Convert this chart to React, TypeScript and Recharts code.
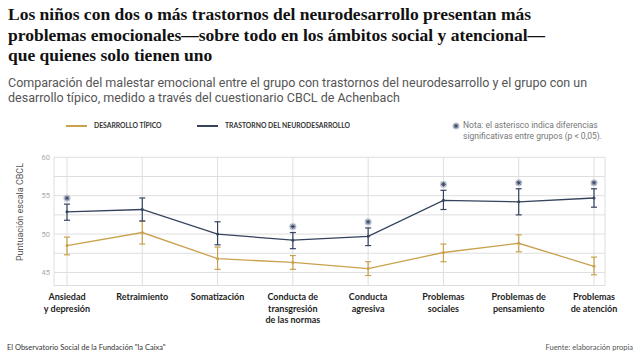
import React from "react";
import { LineChart, Line, XAxis, YAxis, CartesianGrid, ErrorBar } from "recharts";

const categories = [
  "Ansiedad\ny depresión",
  "Retraimiento",
  "Somatización",
  "Conducta de\ntransgresión\nde las normas",
  "Conducta\nagresiva",
  "Problemas\nsociales",
  "Problemas de\npensamiento",
  "Problemas\nde atención",
];

// Trastorno del neurodesarrollo
const trastorno = [52.9, 53.2, 50.0, 49.2, 49.7, 54.4, 54.2, 54.7];
const trastornoLow = [51.8, 51.7, 48.6, 48.1, 48.5, 53.2, 52.5, 53.5];
const trastornoHigh = [53.9, 54.7, 51.6, 50.2, 50.8, 55.7, 55.9, 55.9];

// Desarrollo típico
const tipico = [48.5, 50.2, 46.8, 46.3, 45.5, 47.6, 48.8, 45.8];
const tipicoLow = [47.3, 48.7, 45.4, 45.4, 44.6, 46.4, 47.7, 44.7];
const tipicoHigh = [49.6, 51.7, 48.3, 47.2, 46.4, 48.7, 49.9, 47.0];

// asterisco: diferencias significativas (p < 0,05)
const significativo = [true, false, false, true, true, true, true, true];

const yTicks = [45, 47.5, 50, 52.5, 55, 57.5, 60];

const BLUE = "#35435f";
const GOLD = "#c9a24e";
const GRID = "#dedede";

const data = categories.map((name, i) => ({
  name,
  trastorno: trastorno[i],
  trastornoErr: [trastorno[i] - trastornoLow[i], trastornoHigh[i] - trastorno[i]],
  trastornoHigh: trastornoHigh[i],
  tipico: tipico[i],
  tipicoErr: [tipico[i] - tipicoLow[i], tipicoHigh[i] - tipico[i]],
  sig: significativo[i],
}));

const Asterisk = ({ cx, cy, x, y }: { cx: number; cy: number; x?: number; y?: number }) => {
  const r = 2.4;
  const spokes = [0, 45, 90, 135].map((a) => {
    const rad = (a * Math.PI) / 180;
    return (
      <line
        key={a}
        x1={cx - r * Math.cos(rad)}
        y1={cy - r * Math.sin(rad)}
        x2={cx + r * Math.cos(rad)}
        y2={cy + r * Math.sin(rad)}
        stroke={BLUE}
        strokeWidth={0.9}
      />
    );
  });
  return (
    <g>
      <circle cx={cx} cy={cy} r={3.6} fill="#c3c9d6" />
      {spokes}
    </g>
  );
};

const SigDot = (props: any) => {
  const { cx, cy, payload, index } = props;
  if (!payload || !payload.sig) return <g key={index} />;
  return <Asterisk key={index} cx={cx} cy={cy - 6} />;
};

const XTick = (props: any) => {
  const { x, y, payload } = props;
  const lines = String(payload.value).split("\n");
  return (
    <text
      x={x}
      y={y + 14.5}
      textAnchor="middle"
      fill="#1e1e1e"
      fontFamily="Lato, sans-serif"
      fontWeight={700}
      fontSize={9}
    >
      {lines.map((l, i) => (
        <tspan key={i} x={x} dy={i === 0 ? 0 : 11.5}>
          {l}
        </tspan>
      ))}
    </text>
  );
};

export default function App() {
  return (
    <div
      style={{
        position: "absolute",
        top: 0,
        left: 0,
        width: 640,
        height: 360,
        background: "#fff",
        overflow: "hidden",
        fontFamily: "Roboto, sans-serif",
      }}
    >
      <div
        style={{
          position: "absolute",
          left: 8,
          top: 4,
          width: 620,
          fontFamily: "'Liberation Serif', serif",
          fontWeight: 700,
          fontSize: 17.5,
          lineHeight: "20.5px",
          color: "#111",
        }}
      >
        Los niños con dos o más trastornos del neurodesarrollo presentan más
        <br />
        problemas emocionales—sobre todo en los ámbitos social y atencional—
        <br />
        que quienes solo tienen uno
      </div>
      <div
        style={{
          position: "absolute",
          left: 8,
          top: 76,
          width: 620,
          fontSize: 12.5,
          lineHeight: "14.5px",
          color: "#555",
        }}
      >
        Comparación del malestar emocional entre el grupo con trastornos del neurodesarrollo y el grupo con un
        <br />
        desarrollo típico, medido a través del cuestionario CBCL de Achenbach
      </div>

      {/* leyenda */}
      <div style={{ position: "absolute", left: 66, top: 125, width: 21, height: 1.5, background: GOLD }} />
      <div
        style={{
          position: "absolute",
          left: 94,
          top: 121,
          fontFamily: "Lato, sans-serif",
          fontWeight: 700,
          fontSize: 6.8,
          color: "#333",
          whiteSpace: "nowrap",
        }}
      >
        DESARROLLO TÍPICO
      </div>
      <div style={{ position: "absolute", left: 197, top: 125, width: 21, height: 1.5, background: BLUE }} />
      <div
        style={{
          position: "absolute",
          left: 225,
          top: 121,
          fontFamily: "Lato, sans-serif",
          fontWeight: 700,
          fontSize: 6.8,
          color: "#333",
          whiteSpace: "nowrap",
        }}
      >
        TRASTORNO DEL NEURODESARROLLO
      </div>
      <svg style={{ position: "absolute", left: 451, top: 121 }} width={10} height={10}>
        <Asterisk cx={5} cy={5} />
      </svg>
      <div
        style={{
          position: "absolute",
          left: 463,
          top: 120,
          fontSize: 8.5,
          lineHeight: "11px",
          color: "#777",
          whiteSpace: "nowrap",
        }}
      >
        Nota: el asterisco indica diferencias
        <br />
        significativas entre grupos (p &lt; 0,05).
      </div>

      {/* eje Y */}
      <div
        style={{
          position: "absolute",
          left: 19.5,
          top: 212,
          transform: "translate(-50%, -50%) rotate(-90deg)",
          fontSize: 9,
          color: "#555",
          whiteSpace: "nowrap",
        }}
      >
        Puntuación escala CBCL
      </div>

      <div style={{ position: "absolute", left: 0, top: 0 }}>
        <LineChart
          width={640}
          height={360}
          data={data}
          margin={{ top: 157.3, right: 35, bottom: 44.5, left: 40 }}
        >
          <CartesianGrid stroke={GRID} strokeWidth={1} />
          <XAxis
            dataKey="name"
            interval={0}
            height={30}
            padding={{ left: 13, right: 11 }}
            axisLine={{ stroke: GRID }}
            tickLine={false}
            tickSize={0}
            tickMargin={0}
            tick={<XTick />}
          />
          <YAxis
            width={14}
            domain={[43.3, 60]}
            ticks={yTicks}
            allowDataOverflow
            axisLine={false}
            tickLine={false}
            tickSize={0}
            tickMargin={4}
            tick={{ fill: "#aaa", fontSize: 7.5, fontFamily: "Roboto, sans-serif" }}
            tickFormatter={(v: number) => (v % 5 === 0 ? String(v) : "")}
          />
          <Line
            dataKey="tipico"
            stroke={GOLD}
            strokeWidth={1.3}
            dot={{ r: 1.5, fill: GOLD, stroke: GOLD, strokeWidth: 0 }}
            activeDot={false}
            isAnimationActive={false}
          >
            <ErrorBar dataKey="tipicoErr" width={3} stroke={GOLD} strokeWidth={1.2} direction="y" />
          </Line>
          <Line
            dataKey="trastorno"
            stroke={BLUE}
            strokeWidth={1.3}
            dot={{ r: 1.5, fill: BLUE, stroke: BLUE, strokeWidth: 0 }}
            activeDot={false}
            isAnimationActive={false}
          >
            <ErrorBar dataKey="trastornoErr" width={3} stroke={BLUE} strokeWidth={1.2} direction="y" />
          </Line>
          <Line
            dataKey="trastornoHigh"
            stroke="none"
            dot={<SigDot />}
            activeDot={false}
            isAnimationActive={false}
          />
        </LineChart>
      </div>

      <div
        style={{
          position: "absolute",
          left: 7,
          top: 343,
          fontFamily: "Lato, sans-serif",
          fontSize: 7.5,
          color: "#333",
          whiteSpace: "nowrap",
        }}
      >
        El Observatorio Social de la Fundación "la Caixa"
      </div>
      <div
        style={{
          position: "absolute",
          right: 7,
          top: 343,
          fontFamily: "Lato, sans-serif",
          fontSize: 7.5,
          color: "#555",
          whiteSpace: "nowrap",
        }}
      >
        Fuente: elaboración propia
      </div>
    </div>
  );
}
